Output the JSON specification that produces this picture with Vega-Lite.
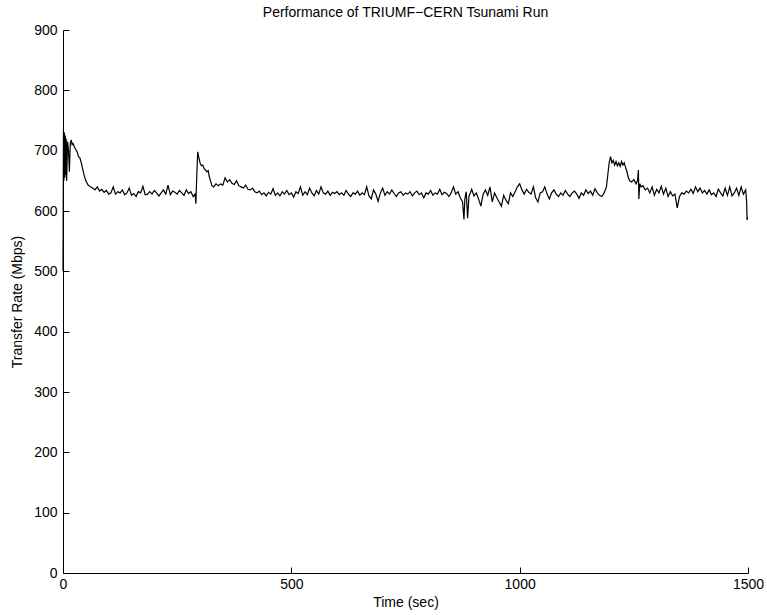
{
  "$schema": "https://vega.github.io/schema/vega-lite/v6.json",
  "autosize": "none",
  "width": 685,
  "height": 543,
  "padding": {"left": 63, "top": 30, "right": 19, "bottom": 42},
  "background": "white",
  "title": {"text": "Performance of TRIUMF−CERN Tsunami Run", "font": "Liberation Sans", "fontSize": 14, "fontWeight": "normal", "color": "black", "anchor": "middle", "offset": 3},
  "config": {"view": {"stroke": null}},
  "data": {"values": [
    {"t":0,"v":500},{"t":1,"v":735},{"t":2,"v":650},{"t":3,"v":730},{"t":4,"v":655},{"t":5,"v":725},{"t":6,"v":660},{"t":7,"v":720},{"t":8,"v":650},{"t":10,"v":715},{"t":12,"v":700},{"t":14,"v":665},{"t":16,"v":712},{"t":18,"v":718},{"t":20,"v":710},{"t":22,"v":712},{"t":25,"v":706},{"t":28,"v":702},{"t":31,"v":698},{"t":34,"v":690},{"t":37,"v":688},{"t":40,"v":680},{"t":43,"v":670},{"t":46,"v":660},{"t":50,"v":650},{"t":55,"v":643},{"t":60,"v":640},{"t":65,"v":638},{"t":70,"v":635},{"t":75,"v":640},{"t":80,"v":633},{"t":85,"v":636},{"t":90,"v":631},{"t":95,"v":634},{"t":100,"v":628},{"t":105,"v":630},{"t":110,"v":640},{"t":115,"v":628},{"t":120,"v":632},{"t":125,"v":630},{"t":130,"v":635},{"t":135,"v":627},{"t":140,"v":630},{"t":145,"v":638},{"t":150,"v":626},{"t":155,"v":629},{"t":160,"v":624},{"t":165,"v":632},{"t":170,"v":630},{"t":175,"v":641},{"t":180,"v":627},{"t":185,"v":628},{"t":190,"v":632},{"t":195,"v":628},{"t":200,"v":634},{"t":205,"v":630},{"t":210,"v":625},{"t":215,"v":630},{"t":220,"v":635},{"t":225,"v":628},{"t":230,"v":643},{"t":235,"v":627},{"t":240,"v":633},{"t":245,"v":631},{"t":250,"v":628},{"t":255,"v":634},{"t":260,"v":630},{"t":265,"v":626},{"t":270,"v":635},{"t":275,"v":629},{"t":280,"v":632},{"t":285,"v":624},{"t":289,"v":628},{"t":291,"v":612},{"t":293,"v":660},{"t":295,"v":698},{"t":297,"v":690},{"t":300,"v":680},{"t":303,"v":675},{"t":306,"v":676},{"t":309,"v":670},{"t":312,"v":668},{"t":315,"v":665},{"t":318,"v":667},{"t":320,"v":658},{"t":323,"v":650},{"t":326,"v":642},{"t":330,"v":640},{"t":335,"v":645},{"t":340,"v":642},{"t":345,"v":645},{"t":350,"v":643},{"t":355,"v":655},{"t":360,"v":648},{"t":365,"v":652},{"t":370,"v":646},{"t":375,"v":644},{"t":380,"v":650},{"t":385,"v":642},{"t":390,"v":640},{"t":395,"v":638},{"t":400,"v":643},{"t":405,"v":636},{"t":410,"v":635},{"t":415,"v":638},{"t":420,"v":632},{"t":425,"v":630},{"t":430,"v":633},{"t":435,"v":627},{"t":440,"v":630},{"t":445,"v":625},{"t":450,"v":631},{"t":455,"v":628},{"t":460,"v":637},{"t":465,"v":626},{"t":470,"v":630},{"t":475,"v":625},{"t":480,"v":632},{"t":485,"v":628},{"t":490,"v":634},{"t":495,"v":627},{"t":500,"v":630},{"t":505,"v":623},{"t":510,"v":632},{"t":515,"v":629},{"t":520,"v":640},{"t":525,"v":626},{"t":530,"v":632},{"t":535,"v":627},{"t":540,"v":638},{"t":545,"v":630},{"t":550,"v":625},{"t":555,"v":634},{"t":560,"v":628},{"t":565,"v":640},{"t":570,"v":630},{"t":575,"v":628},{"t":580,"v":633},{"t":585,"v":626},{"t":590,"v":631},{"t":595,"v":629},{"t":600,"v":632},{"t":605,"v":627},{"t":610,"v":630},{"t":615,"v":626},{"t":620,"v":634},{"t":625,"v":628},{"t":630,"v":624},{"t":635,"v":630},{"t":640,"v":628},{"t":645,"v":633},{"t":650,"v":626},{"t":655,"v":630},{"t":660,"v":627},{"t":665,"v":640},{"t":670,"v":625},{"t":675,"v":620},{"t":680,"v":635},{"t":685,"v":628},{"t":690,"v":616},{"t":695,"v":630},{"t":700,"v":638},{"t":705,"v":626},{"t":710,"v":632},{"t":715,"v":628},{"t":720,"v":635},{"t":725,"v":629},{"t":730,"v":624},{"t":735,"v":630},{"t":740,"v":632},{"t":745,"v":626},{"t":750,"v":630},{"t":755,"v":628},{"t":760,"v":632},{"t":765,"v":625},{"t":770,"v":630},{"t":775,"v":633},{"t":780,"v":627},{"t":785,"v":630},{"t":790,"v":622},{"t":795,"v":630},{"t":800,"v":628},{"t":805,"v":634},{"t":810,"v":626},{"t":815,"v":630},{"t":820,"v":628},{"t":825,"v":636},{"t":830,"v":627},{"t":835,"v":631},{"t":840,"v":629},{"t":845,"v":624},{"t":850,"v":630},{"t":855,"v":640},{"t":860,"v":628},{"t":865,"v":632},{"t":870,"v":622},{"t":875,"v":615},{"t":878,"v":586},{"t":880,"v":620},{"t":883,"v":632},{"t":886,"v":588},{"t":889,"v":625},{"t":892,"v":630},{"t":895,"v":636},{"t":900,"v":625},{"t":905,"v":630},{"t":910,"v":620},{"t":915,"v":608},{"t":920,"v":628},{"t":925,"v":635},{"t":930,"v":626},{"t":935,"v":640},{"t":940,"v":615},{"t":945,"v":630},{"t":950,"v":622},{"t":955,"v":615},{"t":960,"v":608},{"t":965,"v":626},{"t":970,"v":618},{"t":975,"v":612},{"t":980,"v":630},{"t":985,"v":624},{"t":990,"v":632},{"t":995,"v":640},{"t":1000,"v":645},{"t":1005,"v":635},{"t":1010,"v":628},{"t":1015,"v":636},{"t":1020,"v":631},{"t":1025,"v":628},{"t":1030,"v":640},{"t":1035,"v":622},{"t":1040,"v":615},{"t":1045,"v":630},{"t":1050,"v":632},{"t":1055,"v":640},{"t":1060,"v":628},{"t":1065,"v":620},{"t":1070,"v":630},{"t":1075,"v":635},{"t":1080,"v":628},{"t":1085,"v":624},{"t":1090,"v":630},{"t":1095,"v":626},{"t":1100,"v":634},{"t":1105,"v":628},{"t":1110,"v":624},{"t":1115,"v":630},{"t":1120,"v":633},{"t":1125,"v":628},{"t":1130,"v":621},{"t":1135,"v":630},{"t":1140,"v":626},{"t":1145,"v":635},{"t":1150,"v":629},{"t":1155,"v":633},{"t":1160,"v":626},{"t":1165,"v":637},{"t":1170,"v":630},{"t":1175,"v":626},{"t":1180,"v":624},{"t":1185,"v":630},{"t":1190,"v":640},{"t":1193,"v":660},{"t":1196,"v":680},{"t":1199,"v":690},{"t":1202,"v":680},{"t":1205,"v":684},{"t":1208,"v":676},{"t":1211,"v":682},{"t":1214,"v":675},{"t":1217,"v":680},{"t":1220,"v":674},{"t":1223,"v":682},{"t":1226,"v":676},{"t":1229,"v":680},{"t":1232,"v":672},{"t":1235,"v":665},{"t":1238,"v":655},{"t":1241,"v":650},{"t":1245,"v":648},{"t":1250,"v":652},{"t":1255,"v":645},{"t":1258,"v":650},{"t":1260,"v":668},{"t":1261,"v":620},{"t":1263,"v":645},{"t":1266,"v":640},{"t":1270,"v":642},{"t":1275,"v":635},{"t":1280,"v":638},{"t":1285,"v":630},{"t":1290,"v":640},{"t":1295,"v":626},{"t":1300,"v":636},{"t":1305,"v":630},{"t":1310,"v":641},{"t":1315,"v":628},{"t":1320,"v":638},{"t":1325,"v":624},{"t":1330,"v":632},{"t":1335,"v":625},{"t":1340,"v":628},{"t":1345,"v":605},{"t":1350,"v":624},{"t":1355,"v":630},{"t":1360,"v":628},{"t":1365,"v":633},{"t":1370,"v":630},{"t":1375,"v":636},{"t":1380,"v":629},{"t":1385,"v":640},{"t":1390,"v":632},{"t":1395,"v":638},{"t":1400,"v":630},{"t":1405,"v":634},{"t":1410,"v":628},{"t":1415,"v":635},{"t":1420,"v":627},{"t":1425,"v":630},{"t":1430,"v":624},{"t":1435,"v":636},{"t":1440,"v":630},{"t":1445,"v":625},{"t":1450,"v":638},{"t":1455,"v":626},{"t":1460,"v":640},{"t":1465,"v":625},{"t":1470,"v":630},{"t":1475,"v":638},{"t":1480,"v":626},{"t":1485,"v":640},{"t":1490,"v":628},{"t":1495,"v":635},{"t":1497,"v":615},{"t":1498,"v":585},{"t":1499,"v":590}
  ]},
  "layer": [
    {
      "mark": {"type": "line", "color": "black", "strokeWidth": 1.2, "interpolate": "linear"},
      "encoding": {
        "x": {"field": "t", "type": "quantitative", "title": "Time (sec)",
          "scale": {"domain": [0, 1500], "nice": false, "zero": false},
          "axis": {"values": [0, 500, 1000, 1500], "format": "d", "grid": false, "ticks": false, "domainColor": "black", "domainWidth": 1, "labelPadding": 4, "labelFont": "Liberation Sans", "labelFontSize": 14, "labelColor": "black", "labelFlush": false, "titleFont": "Liberation Sans", "titleFontSize": 14, "titleFontWeight": "normal", "titleColor": "black", "titlePadding": 4}},
        "y": {"field": "v", "type": "quantitative", "title": "Transfer Rate (Mbps)",
          "scale": {"domain": [0, 900], "nice": false},
          "axis": {"values": [0, 100, 200, 300, 400, 500, 600, 700, 800, 900], "grid": false, "ticks": false, "domainColor": "black", "domainWidth": 1, "labelPadding": 6, "labelFont": "Liberation Sans", "labelFontSize": 14, "labelColor": "black", "labelFlush": false, "titleFont": "Liberation Sans", "titleFontSize": 14, "titleFontWeight": "normal", "titleColor": "black", "titlePadding": 9}}
      }
    },
    {
      "mark": {"type": "line", "strokeOpacity": 0},
      "encoding": {
        "x": {"field": "t", "type": "quantitative",
          "axis": {"orient": "top", "offset": -543, "values": [0, 500, 1000, 1500], "grid": false, "domain": false, "labels": false, "title": null, "ticks": true, "tickSize": 6, "tickColor": "black", "tickWidth": 1}},
        "y": {"field": "v", "type": "quantitative",
          "axis": {"orient": "right", "offset": -685, "values": [0, 100, 200, 300, 400, 500, 600, 700, 800, 900], "grid": false, "domain": false, "labels": false, "title": null, "ticks": true, "tickSize": 6, "tickColor": "black", "tickWidth": 1}}
      }
    }
  ],
  "resolve": {"axis": {"x": "independent", "y": "independent"}}
}
